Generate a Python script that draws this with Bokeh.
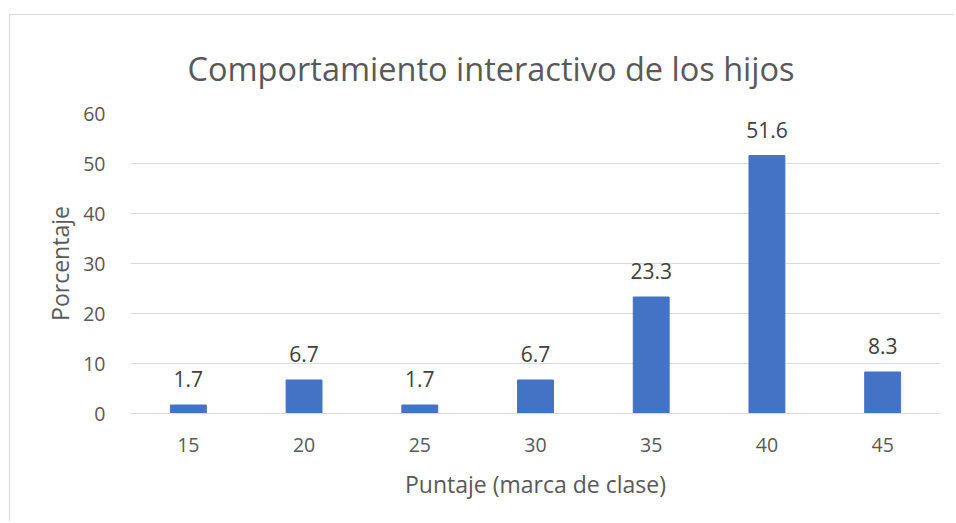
from bokeh.plotting import figure
from bokeh.models import ColumnDataSource, FactorRange, FixedTicker, LabelSet, Title, Range1d
from bokeh.core.properties import value
from bokeh.embed import file_html
from bokeh.resources import INLINE

categories = ["15", "20", "25", "30", "35", "40", "45"]
values = [1.7, 6.7, 1.7, 6.7, 23.3, 51.6, 8.3]
labels = ["1.7", "6.7", "1.7", "6.7", "23.3", "51.6", "8.3"]
y_ticks = [0, 10, 20, 30, 40, 50, 60]

FONT = "Open Sans"
GREY = "#595959"

src = ColumnDataSource(dict(cat=categories, val=values, lab=labels))

p = figure(
    x_range=FactorRange(*categories, range_padding=0),
    y_range=Range1d(0, 60),
    width=945, height=507,
    output_backend="svg", toolbar_location=None,
    min_border_left=120, min_border_right=15, min_border_top=98, min_border_bottom=109,
)
p.margin = (14, 0, 0, 9)
p.styles = {"border-left": "1px solid #D9D9D9", "border-top": "1px solid #D9D9D9"}

p.vbar(x="cat", top="val", width=0.31, source=src, color="#4472C4")

p.add_layout(LabelSet(x="cat", y="val", text="lab", source=src, y_offset=18,
                      text_align="center", text_baseline="alphabetic",
                      text_font=value(FONT), text_font_size="21px", text_color="#404040"))

p.add_layout(Title(text="Comportamiento interactivo de los hijos", align="left",
                   vertical_align="top", offset=57, standoff=42,
                   text_font=FONT, text_font_size="32.5px", text_color=GREY,
                   text_font_style="normal"), "above")

p.outline_line_color = None
p.xgrid.grid_line_color = None
p.ygrid.grid_line_color = "#D9D9D9"
p.ygrid.grid_line_width = 1
p.yaxis.ticker = FixedTicker(ticks=y_ticks)

for ax in (p.xaxis[0], p.yaxis[0]):
    ax.major_tick_line_color = None
    ax.minor_tick_line_color = None
    ax.major_label_text_font = FONT
    ax.major_label_text_font_size = "19.5px"
    ax.major_label_text_color = GREY
    ax.axis_label_text_font = FONT
    ax.axis_label_text_font_size = "23px"
    ax.axis_label_text_color = GREY
    ax.axis_label_text_font_style = "normal"

p.yaxis.axis_line_color = None
p.xaxis.axis_line_color = "#D9D9D9"
p.yaxis.major_label_standoff = 19
p.xaxis.major_label_standoff = 18
p.yaxis.axis_label = "Porcentaje"
p.xaxis.axis_label = "Puntaje (marca de clase)"
p.yaxis.axis_label_standoff = 4
p.xaxis.axis_label_standoff = 13

open("out.html", "w").write(file_html(p, INLINE))
